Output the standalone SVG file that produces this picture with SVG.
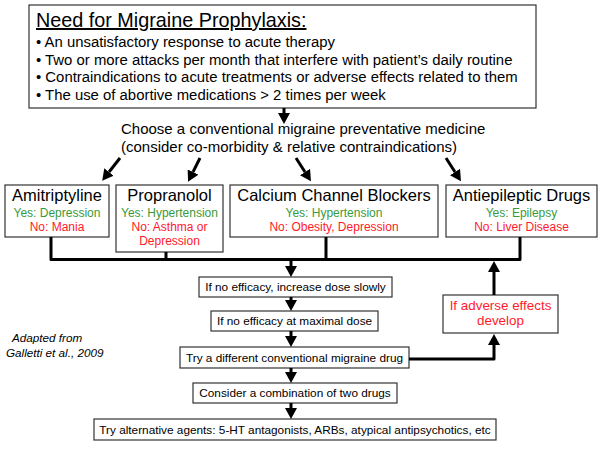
<svg xmlns="http://www.w3.org/2000/svg" width="600" height="450" viewBox="0 0 600 450">
<defs>
<style>
text{font-family:"Liberation Sans",Arial,Helvetica,sans-serif;fill:#000}
.box{fill:#fff;stroke:#333;stroke-width:1.2}
.title{font-size:16.5px;text-anchor:middle}
.yes{font-size:12px;fill:#3a9a3a;text-anchor:middle}
.no{font-size:12px;fill:#ff1a2a;text-anchor:middle}
.step{font-size:11.8px;text-anchor:middle}
.bul{font-size:14.9px}
.conn{fill:none;stroke:#000;stroke-width:3;stroke-linejoin:round}
</style>
<marker id="ah" markerUnits="userSpaceOnUse" markerWidth="12" markerHeight="12" refX="0" refY="6" orient="auto">
<path d="M0,0 L11,6 L0,12 z" fill="#000"/>
</marker>
</defs>
<g id="need">
<rect class="box" x="29" y="5" width="507" height="103"/>
<text x="36" y="27" style="font-size:19.8px;text-decoration:underline">Need for Migraine Prophylaxis:</text>
<text class="bul" x="36" y="47">• An unsatisfactory response to acute therapy</text>
<text class="bul" x="36" y="64.5">• Two or more attacks per month that interfere with patient’s daily routine</text>
<text class="bul" x="36" y="82">• Contraindications to acute treatments or adverse effects related to them</text>
<text class="bul" x="36" y="99.5">• The use of abortive medications &gt; 2 times per week</text>
</g>
<g id="choose">
<text x="121" y="134" style="font-size:15px">Choose a conventional migraine preventative medicine</text>
<text x="121" y="152" style="font-size:15px">(consider co-morbidity &amp; relative contraindications)</text>
</g>
<g id="amitriptyline">
<rect class="box" x="5" y="185" width="104" height="52"/>
<text class="title" x="57" y="201">Amitriptyline</text>
<text class="yes" x="57" y="217">Yes: Depression</text>
<text class="no" x="57" y="231">No: Mania</text>
</g>
<g id="propranolol">
<rect class="box" x="116" y="185" width="107" height="67"/>
<text class="title" x="169.5" y="201">Propranolol</text>
<text class="yes" x="169.5" y="217">Yes: Hypertension</text>
<text class="no" x="169.5" y="231">No: Asthma or</text>
<text class="no" x="169.5" y="245">Depression</text>
</g>
<g id="ccb">
<rect class="box" x="230" y="185" width="208" height="52"/>
<text class="title" x="334" y="201">Calcium Channel Blockers</text>
<text class="yes" x="334" y="217">Yes: Hypertension</text>
<text class="no" x="334" y="231">No: Obesity, Depression</text>
</g>
<g id="aed">
<rect class="box" x="446" y="185" width="151" height="52"/>
<text class="title" x="521.5" y="201">Antiepileptic Drugs</text>
<text class="yes" x="521.5" y="217">Yes: Epilepsy</text>
<text class="no" x="521.5" y="231">No: Liver Disease</text>
</g>
<g id="step1">
<rect class="box" x="199" y="277" width="193" height="20"/>
<text class="step" x="295.5" y="291.2">If no efficacy, increase dose slowly</text>
</g>
<g id="step2">
<rect class="box" x="211" y="311" width="167" height="20"/>
<text class="step" x="294.5" y="325.2">If no efficacy at maximal dose</text>
</g>
<g id="step3">
<rect class="box" x="180" y="347" width="229" height="21"/>
<text class="step" x="294.5" y="361.7">Try a different conventional migraine drug</text>
</g>
<g id="step4">
<rect class="box" x="193" y="383" width="204" height="20"/>
<text class="step" x="295" y="397.2">Consider a combination of two drugs</text>
</g>
<g id="step5">
<rect class="box" x="94" y="419" width="402" height="21"/>
<text class="step" x="295" y="433.7">Try alternative agents: 5-HT antagonists, ARBs, atypical antipsychotics, etc</text>
</g>
<g id="adverse">
<rect class="box" x="443" y="295" width="115" height="38"/>
<text x="500.5" y="310" style="font-size:13.4px;fill:#ff1a2a;text-anchor:middle">If adverse effects</text>
<text x="500.5" y="325" style="font-size:13.4px;fill:#ff1a2a;text-anchor:middle">develop</text>
</g>
<g id="note">
<text x="12" y="342" style="font-size:11.7px;font-style:italic">Adapted from</text>
<text x="6" y="357" style="font-size:11.7px;font-style:italic">Galletti et al., 2009</text>
</g>
<g id="connectors">
<path class="conn" d="M284,108 V113" marker-end="url(#ah)"/>
<path class="conn" d="M120,158 L109,172" marker-end="url(#ah)"/>
<path class="conn" d="M200,158 L193,172" marker-end="url(#ah)"/>
<path class="conn" d="M296,158 L305,172" marker-end="url(#ah)"/>
<path class="conn" d="M446,158 L455,172" marker-end="url(#ah)"/>
<path class="conn" d="M51,237 V259.5 H520 V237"/>
<path class="conn" d="M166,252 V259.5"/>
<path class="conn" d="M326,237 V259.5"/>
<path class="conn" d="M291,259.5 V266" marker-end="url(#ah)"/>
<path class="conn" d="M291,297 V300" marker-end="url(#ah)"/>
<path class="conn" d="M291,331 V336" marker-end="url(#ah)"/>
<path class="conn" d="M291,368 V372" marker-end="url(#ah)"/>
<path class="conn" d="M291,403 V408" marker-end="url(#ah)"/>
<path class="conn" d="M494,295 V272" marker-end="url(#ah)"/>
<path class="conn" d="M409,359 H494 V345" marker-end="url(#ah)"/>
</g>
</svg>
